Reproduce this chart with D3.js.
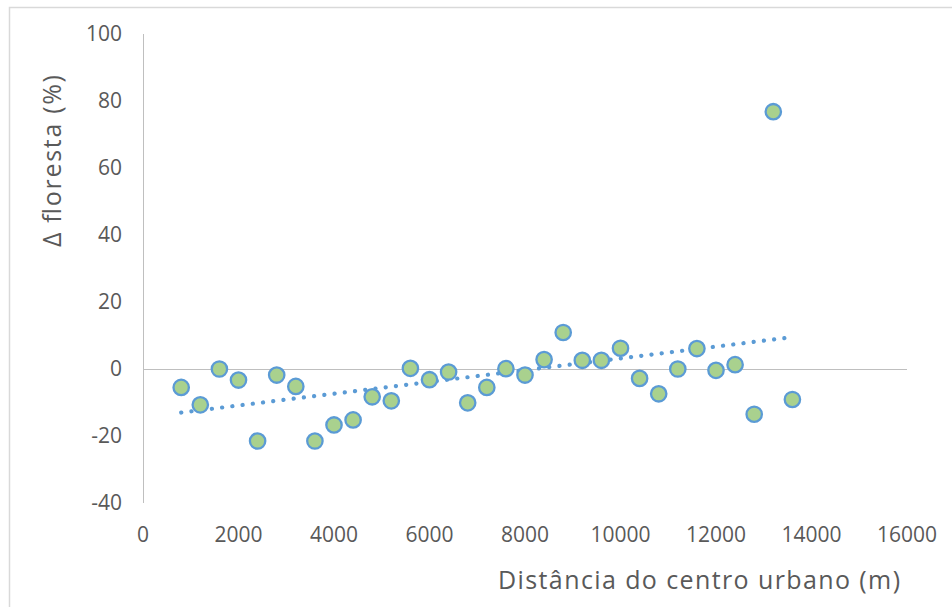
<!DOCTYPE html>
<html>
<head>
<meta charset="utf-8">
<script src="https://cdn.jsdelivr.net/npm/d3@7"></script>
<style>
  body { margin: 0; background: #fff; }
  text { font-family: "Open Sans", "Noto Sans", sans-serif; fill: #595959; }
</style>
</head>
<body>
<div id="chart"></div>
<script>
// distance from urban centre (m)
const distances = [800, 1200, 1600, 2000, 2400, 2800, 3200, 3600, 4000, 4400, 4800,
    5200, 5600, 6000, 6400, 6800, 7200, 7600, 8000, 8400, 8800, 9200,
    9600, 10000, 10400, 10800, 11200, 11600, 12000, 12400, 12800, 13200, 13600];
// change in forest (%)
const forestDelta = [-5.5, -10.7, 0, -3.3, -21.5, -1.8, -5.2, -21.5, -16.7, -15.2, -8.3,
    -9.5, 0.2, -3.2, -0.9, -10.1, -5.5, 0.1, -1.8, 2.8, 10.9, 2.6,
    2.6, 6.2, -2.8, -7.4, 0, 6.1, -0.4, 1.3, -13.5, 76.8, -9.1];
// linear trendline endpoints
const trendX = [800, 13600];
const trendY = [-13.0, 9.5];

const xTicks = [0, 2000, 4000, 6000, 8000, 10000, 12000, 14000, 16000];
const yTicks = [-40, -20, 0, 20, 40, 60, 80, 100];

const width = 952, height = 607;
const margin = {top: 34, right: 45, bottom: 104, left: 143};

const svg = d3.select("#chart").append("svg")
    .attr("width", width)
    .attr("height", height);

// outer chart border
svg.append("rect")
    .attr("x", 9.5).attr("y", 7.5)
    .attr("width", width)
    .attr("height", height)
    .attr("fill", "none")
    .attr("stroke", "#d9d9d9")
    .attr("stroke-width", 1.5);

const x = d3.scaleLinear().domain([0, 16000]).range([margin.left, width - margin.right]);
const y = d3.scaleLinear().domain([-40, 100]).range([height - margin.bottom, margin.top]);

// vertical axis line
svg.append("line")
    .attr("x1", x(0) + 0.5).attr("x2", x(0) + 0.5)
    .attr("y1", y(100)).attr("y2", y(-40))
    .attr("stroke", "#bfbfbf");

// horizontal axis crossing at zero
svg.append("line")
    .attr("x1", x(0)).attr("x2", x(16000))
    .attr("y1", Math.round(y(0)) + 0.5).attr("y2", Math.round(y(0)) + 0.5)
    .attr("stroke", "#bfbfbf")
    .attr("stroke-width", 1.2);

// y tick labels
svg.append("g").selectAll("text")
    .data(yTicks)
    .join("text")
    .attr("x", x(0) - 21)
    .attr("y", d => y(d))
    .attr("dy", "0.35em")
    .attr("text-anchor", "end")
    .attr("font-size", 21)
    .text(d => d);

// x tick labels (low position)
svg.append("g").selectAll("text")
    .data(xTicks)
    .join("text")
    .attr("x", d => x(d))
    .attr("y", 535)
    .attr("dy", "0.35em")
    .attr("text-anchor", "middle")
    .attr("font-size", 21)
    .text(d => d);

// axis titles
svg.append("text")
    .attr("transform", `translate(61, 161) rotate(-90)`)
    .attr("text-anchor", "middle")
    .attr("font-size", 25)
    .attr("textLength", 172)
    .attr("lengthAdjust", "spacing")
    .text("Δ floresta (%)");

svg.append("text")
    .attr("x", 699)
    .attr("y", 589)
    .attr("text-anchor", "middle")
    .attr("font-size", 25)
    .attr("textLength", 402)
    .attr("lengthAdjust", "spacing")
    .text("Distância do centro urbano (m)");

// dotted trendline
svg.append("line")
    .attr("x1", x(trendX[0])).attr("y1", y(trendY[0]))
    .attr("x2", x(trendX[1])).attr("y2", y(trendY[1]))
    .attr("stroke", "#5b9bd5")
    .attr("stroke-width", 4.2)
    .attr("stroke-linecap", "round")
    .attr("stroke-dasharray", "0.1 10.2");

// points
const points = distances.map((d, i) => ({x: d, y: forestDelta[i]}));
svg.append("g").selectAll("circle")
    .data(points)
    .join("circle")
    .attr("cx", d => x(d.x))
    .attr("cy", d => y(d.y))
    .attr("r", 7.7)
    .attr("fill", "#a9d18e")
    .attr("stroke", "#5b9bd5")
    .attr("stroke-width", 2.3);
</script>
</body>
</html>
